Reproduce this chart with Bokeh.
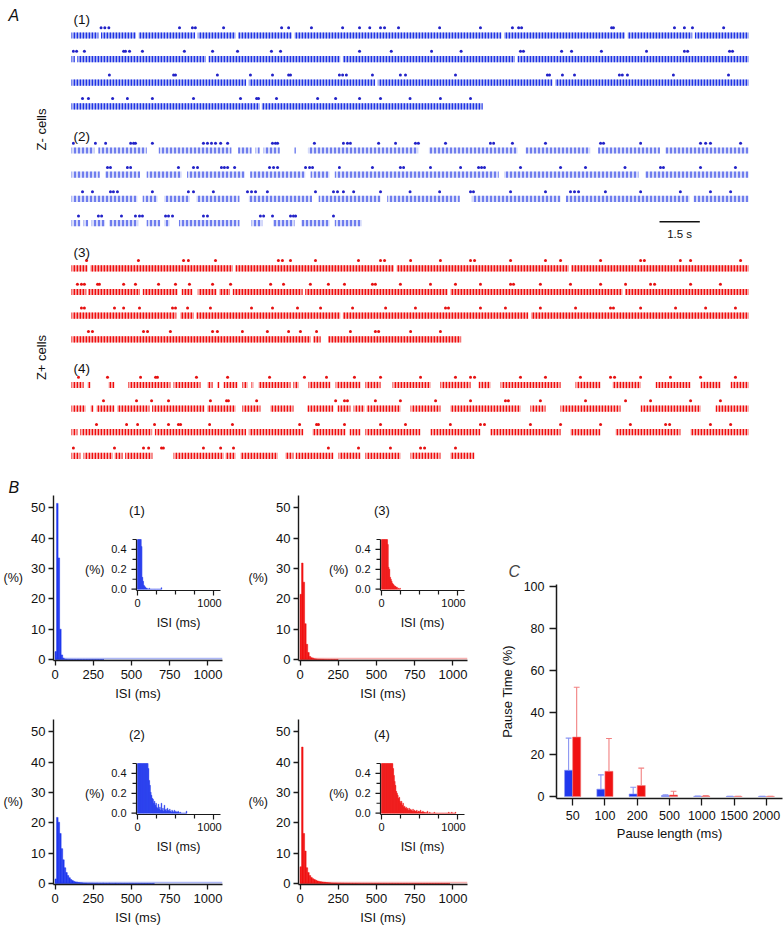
import numpy as np
from bokeh.plotting import figure
from bokeh.models import Range1d, FixedTicker
from bokeh.layouts import column, row
from bokeh.core.properties import value
from bokeh.embed import file_html
from bokeh.resources import INLINE

FONT = "Liberation Sans"

# ---------------- DATA ----------------
# Panel A: firing intervals (s) and burst markers (s), one list per raster row
z1_fire = [
    [(0, 1.0), (1.1, 2.4), (2.5, 4.6), (4.7, 6.1), (6.2, 8.2), (8.3, 16.0), (16.1, 20.6), (20.7, 23.1), (23.2, 25.2)],
    [(0, 0.12), (0.22, 5.0), (5.1, 10.0), (10.1, 16.5), (16.6, 25.2)],
    [(0, 6.5), (6.6, 11.3), (11.4, 17.9), (18.0, 25.2)],
    [(0, 7.0), (7.08, 15.3)],
]
z1_burst = [
    [1.1, 1.24, 1.39, 4.02, 4.5, 4.61, 5.66, 7.82, 8.08, 8.93, 10.09, 10.72, 11.1, 11.5, 11.65, 12.17, 13.7,
     15.22, 16.41, 16.64, 16.75, 20.1, 20.17, 22.44, 22.81, 23.11, 24.27],
    [0.07, 0.19, 0.48, 1.94, 2.01, 2.16, 2.64, 4.2, 5.25, 6.18, 7.44, 7.78, 10.72, 11.9, 13.4, 14.5, 16.71,
     16.82, 18.24, 18.61, 19.72, 21.4, 22.81, 22.93, 24.49, 24.6],
    [1.41, 3.8, 3.87, 5.43, 6.66, 7.48, 8.08, 8.15, 9.97, 10.09, 10.23, 11.2, 12.24, 12.43, 14.29, 17.71, 17.79,
     18.27, 18.72, 20.39, 20.5, 20.69, 22.4, 24.45],
    [0.41, 0.63, 1.53, 2.08, 3.01, 4.54, 6.29, 6.89, 6.96, 7.63, 9.16, 9.83, 10.72, 11.5, 12.6, 13.73, 14.85],
]
z2_fire = [
    [(0, 0.85), (1.0, 2.8), (3.25, 5.95), (6.2, 6.7), (6.85, 7.0), (7.15, 7.75), (8.3, 8.35), (8.8, 12.9),
     (13.3, 16.6), (16.9, 19.3), (19.6, 21.9), (22.1, 25.2)],
    [(0, 1.05), (1.25, 2.55), (2.8, 4.1), (4.3, 6.45), (6.65, 8.7), (8.9, 9.6), (9.8, 15.9), (16.1, 21.1), (21.35, 25.2)],
    [(0, 2.45), (2.65, 3.2), (3.45, 4.4), (4.65, 6.25), (6.6, 8.95), (9.2, 11.5), (11.75, 14.45), (14.9, 18.2),
     (18.4, 23.0), (23.15, 25.2)],
    [(0, 0.33), (0.45, 0.62), (0.75, 1.25), (1.4, 2.48), (2.8, 3.3), (3.45, 3.65), (4.0, 6.25), (6.7, 7.1),
     (7.5, 8.3), (8.55, 9.6), (9.8, 10.8)],
]
z2_burst = [
    [0.07, 0.89, 1.27, 2.2, 2.31, 2.38, 3.01, 4.91, 5.06, 5.21, 5.36, 5.55, 5.81, 7.48, 7.59, 7.67, 9.04, 10.12,
     10.27, 10.38, 11.43, 12.06, 12.8, 12.91, 13.92, 15.59, 15.71, 16.41, 17.64, 19.69, 19.8, 21.18, 23.41, 23.6,
     23.78, 24.9],
    [1.34, 1.45, 2.08, 2.2, 3.98, 4.54, 4.69, 5.58, 5.69, 5.81, 6.07, 7.37, 7.52, 7.67, 8.71, 8.86, 8.97, 9.97,
     11.2, 12.24, 12.36, 13.36, 14.48, 15.15, 15.26, 15.37, 16.71, 18.2, 19.13, 20.6, 21.92, 22.03, 23.41, 24.71],
    [0.41, 0.78, 1.45, 1.56, 1.71, 3.01, 4.35, 4.54, 5.28, 6.55, 6.7, 6.85, 7.29, 9.08, 9.75, 9.9, 10.12, 10.5,
     11.5, 12.6, 13.7, 14.85, 14.96, 16.34, 17.64, 18.57, 18.72, 18.87, 19.87, 21.18, 22.66, 23.78, 24.53],
    [0.26, 1.0, 1.12, 1.86, 2.38, 2.53, 2.64, 3.5, 3.61, 3.76, 4.91, 5.06, 7.03, 7.15, 7.48, 8.15, 8.26, 8.34, 9.75],
]
z3_fire = [
    [(0, 0.6), (0.7, 6.0), (6.1, 12.0), (12.1, 18.5), (18.6, 25.2)],
    [(0, 0.55), (0.62, 2.55), (2.65, 3.95), (4.1, 4.5), (4.7, 5.4), (5.5, 5.9), (6.0, 8.6), (8.7, 14.0),
     (14.1, 20.5), (20.6, 25.2)],
    [(0, 3.9), (4.05, 4.55), (4.65, 10.0), (10.1, 17.0), (17.1, 25.2)],
    [(0, 8.9), (9.0, 9.27), (9.55, 14.5)],
]
z3_burst = [
    [0.56, 2.49, 4.17, 4.35, 5.36, 7.7, 7.85, 8.15, 9.08, 10.68, 11.5, 11.65, 12.62, 13.73, 14.85, 15.0, 16.34,
     17.64, 18.2, 19.69, 21.18, 21.32, 22.66, 23.04, 24.9],
    [0.22, 0.37, 0.48, 0.97, 1.04, 1.94, 2.38, 3.24, 3.87, 4.39, 5.25, 5.92, 7.41, 7.89, 8.89, 9.56, 10.16, 11.2,
     11.31, 12.24, 13.36, 14.29, 15.22, 16.34, 16.45, 17.45, 18.57, 19.69, 20.62, 21.55, 21.7, 23.04, 24.15],
    [0.37, 0.48, 1.6, 1.94, 2.53, 3.76, 3.87, 4.32, 5.17, 6.7, 7.48, 8.41, 9.27, 10.46, 11.69, 12.8, 13.92, 14.03,
     15.22, 16.15, 17.45, 18.76, 20.06, 20.17, 21.18, 22.48, 23.6, 24.71],
    [0.63, 0.78, 2.68, 2.83, 3.68, 5.25, 5.43, 6.36, 7.29, 8.08, 8.52, 9.12, 10.38, 11.31, 11.43, 12.62, 13.73],
]
z4_fire = [
    [(0, 0.45), (0.6, 0.71), (1.38, 1.6), (2.12, 3.68), (3.8, 4.8), (5.06, 5.25), (5.43, 5.51), (5.66, 6.18),
     (6.36, 6.55), (6.7, 6.77), (6.96, 8.15), (8.26, 8.45), (8.82, 9.64), (9.83, 10.76), (10.94, 11.5),
     (11.95, 13.36), (13.73, 14.85), (15.15, 15.59), (15.97, 18.2), (18.76, 19.69), (20.14, 21.18),
     (21.74, 23.04), (23.41, 24.16), (24.53, 25.2)],
    [(0, 0.52), (0.71, 0.82), (0.93, 1.6), (1.7, 2.9), (3.0, 4.95), (5.05, 6.1), (6.36, 7.03), (7.4, 8.26),
     (8.78, 9.75), (9.9, 10.38), (10.5, 10.9), (10.98, 12.24), (12.62, 13.73), (14.1, 16.71), (17.08, 17.64),
     (18.2, 20.43), (21.18, 23.41), (23.97, 25.2)],
    [(0, 0.22), (0.33, 3.0), (3.1, 6.5), (6.6, 8.63), (8.97, 10.2), (10.35, 10.76), (10.94, 12.99),
     (13.36, 15.22), (15.59, 18.2), (18.57, 19.69), (20.25, 22.66), (23.04, 25.2)],
    [(0, 0.33), (0.45, 1.53), (1.6, 1.9), (2.0, 3.01), (3.8, 5.66), (5.73, 6.1), (6.29, 7.67), (7.96, 8.26),
     (8.34, 9.75), (9.94, 10.76), (10.94, 12.24), (12.62, 13.73), (14.1, 15.0)],
]
z4_burst = [
    [0.26, 1.34, 2.57, 3.13, 3.2, 4.65, 5.81, 7.37, 8.67, 9.49, 10.53, 11.5, 12.99, 14.29, 14.85, 15.0, 16.71,
     17.64, 18.94, 20.06, 20.21, 21.18, 22.29, 23.41, 24.71],
    [1.19, 2.42, 2.98, 3.61, 5.17, 5.77, 5.84, 6.89, 9.83, 10.16, 10.27, 11.31, 12.24, 13.55, 14.85, 16.15, 16.26,
     17.45, 19.13, 20.62, 21.55, 23.04, 24.15],
    [0.93, 2.05, 2.46, 3.09, 3.61, 3.98, 4.06, 5.14, 5.99, 8.49, 9.12, 9.19, 10.16, 11.5, 12.43, 14.1, 15.22,
     15.37, 17.08, 18.2, 19.69, 20.8, 22.11, 22.26, 23.78, 24.53],
    [0.07, 1.6, 2.68, 2.87, 3.35, 3.42, 4.91, 5.55, 6.03, 9.56, 10.68, 11.87, 12.99, 13.14, 14.29],
]
group_labels = ["(1)", "(2)", "(3)", "(4)"]
scale_bar_s = 1.5

# Panel B: ISI histograms (% of intervals, 10 ms bins starting at 0 ms)
isi_bin_ms = 10
isi_1 = [2.6, 51.5, 33.5, 10.0, 1.5, 0.43, 0.12, 0.08, 0.04, 0.03, 0.02, 0.01, 0.01, 0.0, 0.0, 0.01,
         0.0, 0.0, 0.0, 0.0, 0.0, 0.0, 0.0, 0.0, 0.0, 0.0, 0.0, 0.0, 0.0, 0.0, 0.0, 0.015]
isi_2 = [1.5, 21.8, 20.2, 16.5, 11.5, 7.8, 5.2, 3.6, 2.6, 1.9, 1.3, 0.95, 0.7, 0.52, 0.45, 0.33, 0.28, 0.21,
         0.18, 0.15, 0.14, 0.1, 0.12, 0.08, 0.1, 0.06, 0.05, 0.09, 0.04, 0.06, 0.03, 0.1, 0.03, 0.05, 0.02, 0.08,
         0.03, 0.04, 0.02, 0.05, 0.03, 0.02, 0.04, 0.02, 0.01, 0.03, 0.02, 0.01, 0.03, 0.01, 0.02, 0.01, 0.01,
         0.02, 0.01, 0.0, 0.01, 0.0, 0.0, 0.0, 0.0, 0.0, 0.0, 0.0, 0.02]
isi_3 = [21.5, 31.8, 25.5, 11.8, 5.0, 2.3, 1.0, 0.6, 0.45, 0.22, 0.2, 0.12, 0.1, 0.08, 0.06, 0.05, 0.04,
         0.03, 0.03, 0.02, 0.02, 0.0, 0.01, 0.0, 0.01]
isi_4 = [5.5, 45.0, 16.5, 10.7, 5.2, 3.6, 2.6, 2.0, 1.6, 1.3, 1.05, 0.85, 0.7, 0.6, 0.52, 0.45, 0.38, 0.32,
         0.28, 0.22, 0.2, 0.18, 0.15, 0.16, 0.12, 0.1, 0.12, 0.08, 0.1, 0.06, 0.07, 0.05, 0.06, 0.04, 0.05, 0.03,
         0.05, 0.03, 0.04, 0.03, 0.02, 0.04, 0.02, 0.03, 0.02, 0.02, 0.03, 0.01, 0.02, 0.02, 0.01, 0.03, 0.01,
         0.01, 0.02, 0.01, 0.01, 0.0, 0.01, 0.0, 0.02, 0.0, 0.0, 0.01, 0.0, 0.0, 0.0, 0.0, 0.0, 0.01, 0.0, 0.0,
         0.0, 0.0, 0.0, 0.0, 0.0, 0.0, 0.0, 0.0, 0.0, 0.0, 0.0, 0.0, 0.0, 0.0, 0.0, 0.0, 0.01, 0.0, 0.0, 0.0,
         0.01, 0.0, 0.0, 0.0, 0.0, 0.01]
isi_main_ticks = [0, 250, 500, 750, 1000]
isi_pct_ticks = [0, 10, 20, 30, 40, 50]
inset_pct_ticks = [0.0, 0.2, 0.4]
inset_pct_minor = [0.1, 0.3, 0.5]
inset_isi_ticks = [0, 1000]
inset_isi_minor = [250, 500, 750]
inset_clip = 0.5

# Panel C: pause time (%) per pause length, mean and SD
pause_len = ["50", "100", "200", "500", "1000", "1500", "2000"]
zminus_mean = [12.5, 3.5, 1.2, 0.45, 0.1, 0.05, 0.05]
zminus_sd = [15.3, 6.8, 3.2, 0.35, 0.1, 0.05, 0.05]
zplus_mean = [28.3, 12.0, 5.2, 0.7, 0.2, 0.05, 0.05]
zplus_sd = [23.7, 15.6, 8.3, 1.8, 0.2, 0.05, 0.05]
pause_ticks = [0, 20, 40, 60, 80, 100]

# ---------------- STYLE ----------------
BLUE = "#2038ee"
BLUE_DOT = "#2222c8"
RED = "#f01212"
RED_DOT = "#e61010"
AX = "#1a1a1a"
TXT = "#111111"


def style_axis(ax, size="13px"):
    ax.axis_line_color = AX
    ax.axis_line_width = 1.4
    ax.major_tick_line_color = AX
    ax.major_tick_line_width = 1.3
    ax.major_tick_in = 0
    ax.minor_tick_line_color = None
    ax.major_label_text_font = FONT
    ax.major_label_text_font_size = size
    ax.major_label_text_color = TXT
    ax.axis_label_text_font = FONT
    ax.axis_label_text_font_style = "normal"
    ax.axis_label_text_color = TXT


# ---------------- PANEL A ----------------
PX_PER_S = 26.87
T0_PAGE = 71.0
A_W, A_H = 783, 495
xa0 = (0 - T0_PAGE) / PX_PER_S
pA = figure(width=A_W, height=A_H, x_range=Range1d(xa0, xa0 + A_W / PX_PER_S),
            y_range=Range1d(A_H, 0), x_axis_type=None, y_axis_type=None,
            output_backend="svg", toolbar_location=None, min_border=0,
            outline_line_color=None)
pA.grid.visible = False

groups = [
    (z1_fire, z1_burst, 35.0, 23.6, 7.8, "#aab4f4", "#1f32e4", 3, 1.5, BLUE_DOT),
    (z2_fire, z2_burst, 150.0, 24.2, 7.2, "#d6dbfa", "#2a3ee6", 4, 1.2, BLUE_DOT),
    (z3_fire, z3_burst, 267.8, 23.7, 7.8, "#f7a8a8", "#f00c0c", 3, 1.6, RED_DOT),
    (z4_fire, z4_burst, 384.5, 23.6, 7.8, "#f8b4b4", "#f00c0c", 3, 1.5, RED_DOT),
]
label_y = [19, 136, 252, 368]
for gi, (fire, burst, y0, dy, doff, fill, hatch, hscale, hw, dotc) in enumerate(groups):
    L, R, T, B = [], [], [], []
    bx, by = [], []
    for ri, rrow in enumerate(fire):
        yc = y0 + ri * dy
        for a, b in rrow:
            L.append(a); R.append(b); T.append(yc - 3.1); B.append(yc + 3.1)
        for t in burst[ri]:
            bx.append(t); by.append(yc - doff)
    pA.quad(left=L, right=R, top=T, bottom=B, fill_color=fill, line_color=None,
            hatch_pattern="|", hatch_color=hatch, hatch_scale=hscale, hatch_weight=hw)
    pA.scatter(bx, by, marker="circle", size=3.0, fill_color=dotc, line_color=None)
    pA.text(x=[(73 - T0_PAGE) / PX_PER_S], y=[label_y[gi]], text=[group_labels[gi]],
            text_font=value(FONT), text_font_size=value("13.5px"), text_align="left",
            text_baseline="middle", text_color=TXT)

pA.text(x=[(41 - T0_PAGE) / PX_PER_S] * 2, y=[129, 357], text=["Z- cells", "Z+ cells"],
        angle=np.pi / 2, text_font=value(FONT), text_font_size=value("13px"),
        text_align="center", text_baseline="middle", text_color=TXT)
sb0 = (659 - T0_PAGE) / PX_PER_S
pA.segment(x0=[sb0], y0=[221.3], x1=[sb0 + scale_bar_s], y1=[221.3], line_color=TXT, line_width=1.6)
pA.text(x=[sb0 + scale_bar_s / 2], y=[233.5], text=[f"{scale_bar_s} s"], text_font=value(FONT),
        text_font_size=value("11.5px"), text_align="center", text_baseline="middle", text_color=TXT)
pA.text(x=[(8 - T0_PAGE) / PX_PER_S], y=[15], text=["A"], text_font=value(FONT),
        text_font_size=value("16px"), text_font_style="italic", text_align="left",
        text_baseline="middle", text_color=TXT)
pA.text(x=[(8 - T0_PAGE) / PX_PER_S], y=[486.5], text=["B"], text_font=value(FONT),
        text_font_size=value("16px"), text_font_style="italic", text_align="left",
        text_baseline="middle", text_color=TXT)


# ---------------- PANEL B ----------------
MX = (-10.0, 1095.0)
MY = (-0.33, 54.1)
IX = (-13.0, 1092.0)
IY = (-0.013, inset_clip)


def hist_panel(vals, color, light, cell_w, cell_h, mf, inset_rel, title, bottom_cfg):
    """mf: main frame (left, top, w, h) in the cell; inset_rel: inset box (left, top, w, h)
    relative to the main frame, in pixels."""
    vals = np.array(vals, dtype=float)
    left = np.arange(len(vals)) * isi_bin_ms
    right = left + isi_bin_ms
    fw, fh = mf[2], mf[3]
    p = figure(width=cell_w, height=cell_h, x_range=Range1d(*MX), y_range=Range1d(*MY),
               min_border_left=mf[0], min_border_top=mf[1],
               min_border_right=cell_w - mf[0] - fw, min_border_bottom=cell_h - mf[1] - fh,
               output_backend="svg", toolbar_location=None, outline_line_color=None)
    p.grid.visible = False
    il, it, iw, ih = inset_rel
    kx = iw / (IX[1] - IX[0])
    ky = ih / (IY[1] - IY[0])
    ix0 = IX[0] - il / kx
    iy1 = IY[1] + it / ky
    iy0 = IY[0] - (fh - it - ih) / ky
    p.extra_x_ranges = {"ix": Range1d(ix0, ix0 + fw / kx)}
    p.extra_y_ranges = {"iy": Range1d(iy0, iy1)}

    # main histogram
    p.quad(left=[0], right=[MX[1]], bottom=[0], top=[0.55], fill_color=light, line_color=None, fill_alpha=0.8)
    p.quad(left=left, right=right, bottom=0, top=vals, fill_color=color, line_color=color, line_width=0.5)
    p.text(x=[535], y=[49], text=[title], text_font=value(FONT), text_font_size=value("13px"),
           text_align="center", text_baseline="middle", text_color=TXT)

    # inset histogram (same data, clipped to the inset's 0.5 % ceiling)
    r = dict(x_range_name="ix", y_range_name="iy")
    p.quad(left=left, right=right, bottom=0, top=np.minimum(vals, inset_clip),
           fill_color=color, line_color=color, line_width=0.4, **r)
    ax_x, ax_y = IX[0], IY[0]
    px_x = 1.0 / kx
    px_y = 1.0 / ky
    p.segment(x0=[ax_x, ax_x], y0=[ax_y, ax_y], x1=[IX[1], ax_x], y1=[ax_y, IY[1]],
              line_color=AX, line_width=1.2, **r)
    yt = inset_pct_ticks + inset_pct_minor
    ylen = [5] * len(inset_pct_ticks) + [4] * len(inset_pct_minor)
    p.segment(x0=[ax_x] * len(yt), y0=yt, x1=[ax_x - l * px_x for l in ylen], y1=yt,
              line_color=AX, line_width=1.2, **r)
    xt = inset_isi_ticks + inset_isi_minor
    xlen = [5] * len(inset_isi_ticks) + [4] * len(inset_isi_minor)
    p.segment(x0=xt, y0=[ax_y] * len(xt), x1=xt, y1=[ax_y - l * px_y for l in xlen],
              line_color=AX, line_width=1.2, **r)
    p.text(x=[ax_x - 10 * px_x] * len(inset_pct_ticks), y=inset_pct_ticks,
           text=[f"{v:.1f}" for v in inset_pct_ticks], text_font=value(FONT), text_font_size=value("11px"),
           text_align="right", text_baseline="middle", text_color=TXT, **r)
    # last label nudged inward so it stays inside the panel
    xl = [v - (4 * px_x if v == max(inset_isi_ticks) else 0) for v in inset_isi_ticks]
    p.text(x=xl, y=[ax_y - 8 * px_y] * len(inset_isi_ticks),
           text=[str(v) for v in inset_isi_ticks], text_font=value(FONT), text_font_size=value("11px"),
           text_align="center", text_baseline="top", text_color=TXT, **r)
    p.text(x=[(IX[0] + IX[1]) / 2], y=[ax_y - 25 * px_y], text=["ISI (ms)"], text_font=value(FONT),
           text_font_size=value("12.5px"), text_align="center", text_baseline="top", text_color=TXT, **r)
    p.text(x=[ax_x - 32 * px_x], y=[(IY[0] + IY[1]) / 2 - 5 * px_y], text=["(%)"], text_font=value(FONT),
           text_font_size=value("12.5px"), text_align="right", text_baseline="middle", text_color=TXT, **r)

    for ax in (p.xaxis[0], p.yaxis[0]):
        style_axis(ax)
        ax.major_tick_out = 5
    p.xaxis.ticker = FixedTicker(ticks=isi_main_ticks)
    p.yaxis.ticker = FixedTicker(ticks=isi_pct_ticks)
    p.xaxis.axis_label = "ISI (ms)"
    p.xaxis.axis_label_text_font_size = "13px"
    p.xaxis.major_label_standoff = bottom_cfg[0]
    p.xaxis.axis_label_standoff = bottom_cfg[1]
    p.yaxis.axis_label = "(%)"
    p.yaxis.axis_label_text_font_size = "12.5px"
    p.yaxis.axis_label_orientation = "horizontal"
    p.yaxis.major_label_standoff = 3
    p.yaxis.axis_label_standoff = 5
    return p


LBLUE = "#9aa6f4"
LRED = "#f6a0a0"
b1 = hist_panel(isi_1, BLUE, LBLUE, 242, 208, (53, 0, 169, 165), (83, 44, 84, 51), "(1)", (4, 4))
b3 = hist_panel(isi_3, RED, LRED, 254, 208, (56, 0, 169, 165), (82, 44, 84, 51), "(3)", (4, 4))
b2 = hist_panel(isi_2, BLUE, LBLUE, 242, 227, (53, 16, 169, 165), (83, 44, 84, 51), "(2)", (4, 4))
b4 = hist_panel(isi_4, RED, LRED, 254, 227, (56, 16, 169, 165), (82, 44, 84, 51), "(4)", (4, 4))

# ---------------- PANEL C ----------------
pC = figure(width=287, height=435, x_range=Range1d(-0.5, 6.5), y_range=Range1d(-0.95, 100.95),
            min_border_left=57, min_border_right=1, min_border_top=89, min_border_bottom=132,
            output_backend="svg", toolbar_location=None, outline_line_color=None)
pC.grid.visible = False
idx = np.arange(len(pause_len))
off, bw, cap = 0.125, 0.25, 0.09
for means, sds, col, ecol, sgn in ((zminus_mean, zminus_sd, BLUE, "#8a95f2", -1),
                                   (zplus_mean, zplus_sd, RED, "#f28080", 1)):
    m = np.array(means); s = np.array(sds)
    xb = idx + sgn * off
    pC.vbar(x=xb, width=bw, top=m, bottom=0, fill_color=col, line_color=ecol, line_width=0.6)
    pC.segment(x0=xb, y0=m, x1=xb, y1=m + s, line_color=ecol, line_width=1.1)
    pC.segment(x0=xb - cap, y0=m + s, x1=xb + cap, y1=m + s, line_color=ecol, line_width=1.1)
for ax in (pC.xaxis[0], pC.yaxis[0]):
    style_axis(ax, "12.5px")
    ax.axis_line_width = 1.5
    ax.major_tick_out = 7
pC.xaxis.ticker = FixedTicker(ticks=list(idx))
pC.xaxis.major_label_overrides = {int(i): lab for i, lab in zip(idx, pause_len)}
pC.yaxis.ticker = FixedTicker(ticks=pause_ticks)
pC.xaxis.axis_label = "Pause length (ms)"
pC.xaxis.axis_label_text_font_size = "13px"
pC.xaxis.major_label_standoff = 5
pC.xaxis.axis_label_standoff = 3
pC.yaxis.axis_label = "Pause Time (%)"
pC.yaxis.axis_label_text_font_size = "13px"
pC.yaxis.major_label_standoff = 5
pC.yaxis.axis_label_standoff = 6
pC.title.text = "C"
pC.title.text_font = FONT
pC.title.text_font_size = "16px"
pC.title.text_font_style = "italic"
pC.title.align = "left"
pC.title.offset = -48
pC.title.standoff = 10

layout = column(pA, row(column(b1, b2), column(b3, b4), pC))

open("out.html", "w").write(file_html(layout, INLINE))
